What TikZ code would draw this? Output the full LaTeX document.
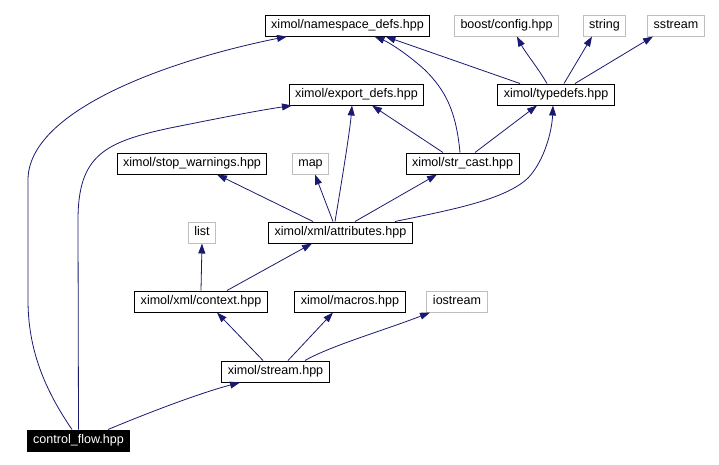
\documentclass[tikz,border=0pt]{standalone}
\usepackage{fontspec}
\setmainfont{Liberation Sans}
\usetikzlibrary{arrows.meta,calc}
\definecolor{edgeblue}{RGB}{25,25,112}
\definecolor{extgray}{RGB}{191,191,191}

\begin{document}
\begin{tikzpicture}[x=0.75pt,y=-0.75pt,
  filebox/.style={draw=black, line width=0.75pt, inner xsep=4.5pt, inner ysep=0pt,
    minimum height=15.75pt, text height=6.8pt, text depth=2pt,
    font={\fontsize{9.4pt}{11pt}\selectfont}},
  extbox/.style={filebox, draw=extgray},
  rootbox/.style={filebox, fill=black, text=white},
  incl/.style={draw=edgeblue, line width=0.6pt, -{Triangle[length=7.5pt,width=5.2pt]}}]
\useasboundingbox (0,0) rectangle (719,465);
% include files, one row per level
\node[filebox] (ns) at (347.5,25.5) {ximol/namespace\_defs.hpp};
\node[extbox] (boost) at (506.5,25.5) {boost/config.hpp};
\node[extbox] (str) at (604.5,25.5) {string};
\node[extbox] (sstr) at (676,25.5) {sstream};
\node[filebox] (exp) at (356.5,94.5) {ximol/export\_defs.hpp};
\node[filebox] (tdef) at (556,94.5) {ximol/typedefs.hpp};
\node[filebox] (stop) at (192,163.5) {ximol/stop\_warnings.hpp};
\node[extbox] (map) at (310.5,163.5) {map};
\node[filebox] (strc) at (462.5,163.5) {ximol/str\_cast.hpp};
\node[extbox] (list) at (202,232.5) {list};
\node[filebox] (attr) at (340.5,232.5) {ximol/xml/attributes.hpp};
\node[filebox] (ctx) at (201,301.5) {ximol/xml/context.hpp};
\node[filebox] (mac) at (350,301.5) {ximol/macros.hpp};
\node[extbox] (ios) at (457,301.5) {iostream};
\node[filebox] (stream) at (275.5,371.5) {ximol/stream.hpp};
\node[rootbox] (cf) at (78.5,440.5) {control\_flow.hpp};
% include edges
\draw[incl] ($(cf.north)+(-6.5,0)$) .. controls (45,390) and (28,350) .. (28,300) -- (28,180) .. controls (28,110) and (170,60) .. ($(ns.south)+(-60.5,0)$);
\draw[incl] (cf.north) -- (78,220) .. controls (78,155) and (105,142) .. (170,128) .. controls (215,119) and (255,111) .. ($(exp.south)+(-64.5,0)$);
\draw[incl] ($(cf.north)+(29.5,0)$) .. controls (150,412) and (200,393) .. ($(stream.south)+(-35.5,0)$);
\draw[incl] ($(strc.north)+(-2.5,0)$) .. controls (456,110) and (445,90) .. (425,70) .. controls (405,52) and (388,42) .. ($(ns.south)+(27,0)$);
\draw[incl] ($(tdef.north)+(-36,0)$) -- ($(ns.south)+(38,0)$);
\draw[incl] ($(tdef.north)+(-9,0)$) .. controls (538,68) and (525,52) .. ($(boost.south)+(10.5,0)$);
\draw[incl] ($(tdef.north)+(8,0)$) -- ($(str.south)+(-12.5,0)$);
\draw[incl] ($(tdef.north)+(19,0)$) -- ($(sstr.south)+(-23,0)$);
\draw[incl] ($(attr.north)+(-5.5,0)$) .. controls (342,180) and (350,130) .. ($(exp.south)+(-4.5,0)$);
\draw[incl] ($(strc.north)+(-19.5,0)$) -- ($(exp.south)+(15.5,0)$);
\draw[incl] ($(strc.north)+(12.5,0)$) -- ($(tdef.south)+(-19,0)$);
\draw[incl] ($(attr.north)+(54.5,0)$) .. controls (450,210) and (505,200) .. (528,178) .. controls (545,160) and (552,130) .. ($(tdef.south)+(-3,0)$);
\draw[incl] ($(attr.north)+(-27.5,0)$) -- ($(stop.south)+(25,0)$);
\draw[incl] ($(attr.north)+(-7.5,0)$) -- ($(map.south)+(4.5,0)$);
\draw[incl] ($(attr.north)+(14.5,0)$) -- ($(strc.south)+(-25.5,0)$);
\draw[incl] (ctx.north) -- (list.south);
\draw[incl] ($(ctx.north)+(26,0)$) -- ($(attr.south)+(-28.5,0)$);
\draw[incl] ($(stream.north)+(-12.5,0)$) -- ($(ctx.south)+(16,0)$);
\draw[incl] ($(stream.north)+(12.5,0)$) -- ($(mac.south)+(-17,0)$);
\draw[incl] ($(stream.north)+(29.5,0)$) .. controls (330,346) and (385,330) .. ($(ios.south)+(-27,0)$);
\end{tikzpicture}
\end{document}
